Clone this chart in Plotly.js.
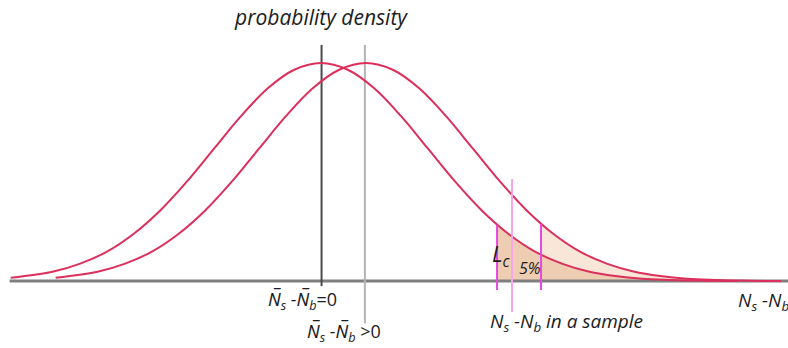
<!DOCTYPE html>
<html><head><meta charset="utf-8">
<script src="https://cdn.plot.ly/plotly-3.0.1.min.js"></script>
<style>html,body{margin:0;padding:0;background:#fff}</style>
</head><body>
<div id="chart" style="width:788px;height:348px"></div>
<script>
// Background distribution (N̄s - N̄b = 0), centred at 0
const nullX = [-2.9,-2.5,-2.25,-2.0,-1.75,-1.5,-1.25,-1.0,-0.75,-0.5,-0.25,0,0.25,0.5,0.75,1.0,1.25,1.5,1.75,2.0,2.25,2.5,2.75,3.0,3.5,3.9];
const nullY = [0.015,0.044,0.080,0.135,0.217,0.325,0.458,0.607,0.755,0.883,0.969,1.0,0.969,0.883,0.755,0.607,0.458,0.325,0.217,0.135,0.080,0.044,0.023,0.011,0.002,0.0005];
// Signal distribution (N̄s - N̄b > 0)
const sigX = [-2.48,-2.08,-1.83,-1.58,-1.33,-1.08,-0.83,-0.58,-0.33,-0.08,0.17,0.42,0.67,0.92,1.17,1.42,1.67,1.92,2.17,2.42,2.67,2.92,3.17,3.42,3.92,4.3];
const sigY = [0.015,0.044,0.080,0.135,0.217,0.325,0.458,0.607,0.755,0.883,0.969,1.0,0.969,0.883,0.755,0.607,0.458,0.325,0.217,0.135,0.080,0.044,0.023,0.011,0.002,0.0005];
// 5% tail above the critical level Lc (under background curve)
const tailX = [1.645,1.75,2.0,2.25,2.5,2.75,3.0,3.5,3.9];
const tailY = [0.258,0.217,0.135,0.080,0.044,0.023,0.011,0.002,0.0005];
// light tail under the signal curve
const sigTailX = [2.056,2.17,2.42,2.67,2.92,3.17,3.42,3.92,4.3];
const sigTailY = [0.263,0.217,0.135,0.080,0.044,0.023,0.011,0.002,0.0005];
// horizontal axis
const axisX = [-2.91, 4.37];
const axisY = [0, 0];
// vertical markers
const meanNullX = [0.005, 0.005], meanNullY = [1.083, -0.023];
const meanSigX = [0.41, 0.41], meanSigY = [1.083, -0.193];
const lcX = [1.645, 1.645], lcY = [0.258, -0.041];
const sampleX = [1.785, 1.785], sampleY = [0.468, -0.142];
const rightX = [2.056, 2.056], rightY = [0.263, -0.041];

const red = '#dc2f5c';
const traces = [
  {x: sigTailX, y: sigTailY, mode: 'lines', fill: 'tozeroy', fillcolor: '#f8e6d8', line: {width: 0, shape: 'spline'}},
  {x: tailX, y: tailY, mode: 'lines', fill: 'tozeroy', fillcolor: '#eecdb3', line: {width: 0, shape: 'spline'}},
  {x: axisX, y: axisY, mode: 'lines', line: {color: '#7f7f7f', width: 3}},
  {x: meanNullX, y: meanNullY, mode: 'lines', line: {color: '#4a4a4a', width: 2}},
  {x: meanSigX, y: meanSigY, mode: 'lines', line: {color: '#b4b4b4', width: 2}},
  {x: nullX, y: nullY, mode: 'lines', line: {color: red, width: 2, shape: 'spline'}},
  {x: sigX, y: sigY, mode: 'lines', line: {color: red, width: 2, shape: 'spline'}},
  {x: lcX, y: lcY, mode: 'lines', line: {color: '#e548e0', width: 2}},
  {x: rightX, y: rightY, mode: 'lines', line: {color: '#e548e0', width: 2}},
  {x: sampleX, y: sampleY, mode: 'lines', line: {color: '#f7a6ec', width: 2}}
];

const tf = {family: 'Open Sans, Noto Sans, sans-serif', color: '#1c1c1c'};
function ann(text, x, y, size, xanchor) {
  return {text: text, x: x, y: y, xref: 'x', yref: 'y', showarrow: false,
    xanchor: xanchor || 'center', yanchor: 'middle',
    font: Object.assign({}, tf, {size: size})};
}
const layout = {
  width: 788, height: 348,
  margin: {l: 0, r: 0, t: 0, b: 0},
  paper_bgcolor: '#fff', plot_bgcolor: '#fff',
  showlegend: false,
  xaxis: {range: [-3.0, 4.364], visible: false, fixedrange: true},
  yaxis: {range: [-0.307, 1.289], visible: false, fixedrange: true},
  annotations: [
    ann('<i>probability density</i>', 0, 1.211, 21),
    ann('<i>N\u0305<sub>s</sub> -N\u0305<sub>b</sub></i>=0', -0.17, -0.09, 18),
    ann('<i>N\u0305<sub>s</sub> -N\u0305<sub>b</sub></i> >0', 0.215, -0.236, 18),
    ann('<i>N<sub>s</sub> -N<sub>b</sub> in a sample</i>', 2.29, -0.19, 19),
    ann('<i>N<sub>s</sub> -N<sub>b</sub></i>', 3.88, -0.09, 19, 'left'),
    ann('<i>L<sub>c</sub></i>', 1.69, 0.12, 22),
    ann('<i>5%</i>', 1.95, 0.058, 16)
  ]
};
Plotly.newPlot('chart', traces, layout, {staticPlot: true, displayModeBar: false});
</script>
</body></html>
